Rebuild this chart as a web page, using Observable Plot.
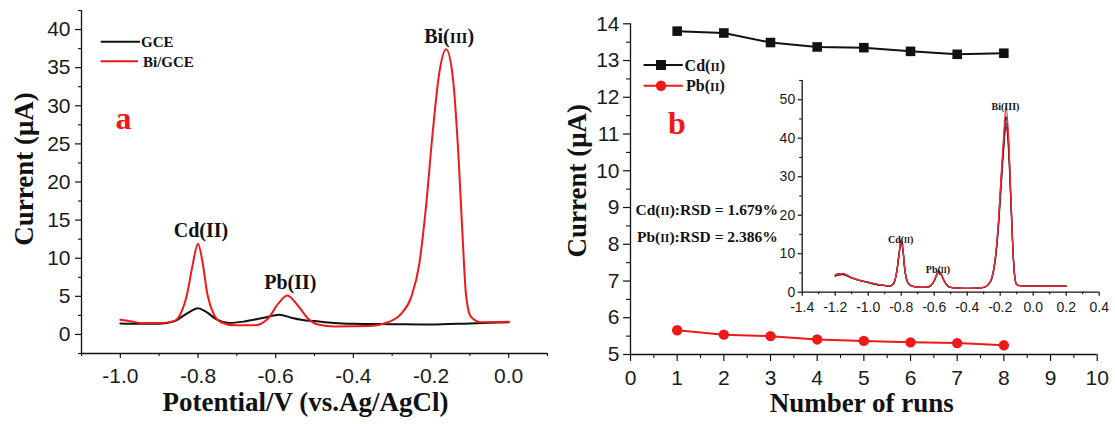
<!DOCTYPE html>
<html>
<head>
<meta charset="utf-8">
<script src="https://cdn.jsdelivr.net/npm/d3@7"></script>
<script src="https://cdn.jsdelivr.net/npm/@observablehq/plot@0.6"></script>
<style>
  html, body { margin: 0; padding: 0; background: #fff; }
  #wrap { position: relative; width: 1115px; height: 424px; overflow: hidden; background: #fff; }
  #wrap > svg { position: absolute; margin: 0; }
</style>
</head>
<body>
<div id="wrap"></div>
<script>
// ================= DATA =================
// ---- Panel a : stripping voltammograms ----
const gcePotential = [-1.0, -0.95, -0.90, -0.86, -0.83, -0.80, -0.78, -0.75, -0.72, -0.68, -0.63, -0.59, -0.56, -0.53, -0.50, -0.45, -0.40, -0.30, -0.20, -0.10, 0.0];
const gceCurrent   = [1.45, 1.4, 1.4, 1.75, 2.7, 3.45, 3.0, 1.9, 1.5, 1.7, 2.2, 2.6, 2.2, 1.9, 1.75, 1.5, 1.4, 1.35, 1.3, 1.45, 1.6];

const biGcePotential = [-1.0, -0.97, -0.947, -0.90, -0.862, -0.845, -0.828, -0.815, -0.80, -0.789, -0.776, -0.758, -0.741, -0.706, -0.655, -0.62, -0.594, -0.57, -0.543, -0.517, -0.491, -0.448, -0.362, -0.311, -0.277, -0.251, -0.23, -0.213, -0.196, -0.179, -0.161, -0.144, -0.13, -0.119, -0.11, -0.097, -0.071, 0.0];
const biGceCurrent   = [1.93, 1.7, 1.5, 1.5, 1.75, 2.7, 5.3, 8.8, 11.9, 9.7, 5.3, 2.5, 1.6, 1.2, 1.2, 2.06, 4.0, 5.1, 3.8, 2.1, 1.3, 1.05, 1.1, 1.6, 2.7, 4.9, 9.3, 16.7, 26.3, 34.2, 37.4, 33.8, 24.1, 13.2, 5.3, 2.3, 1.6, 1.65];

const peakNamesA = ["Cd(II)", "Pb(II)", "Bi(III)"];
const peakPotentialsA = [-0.80, -0.57, -0.161];

const xTicksA = [-1.0, -0.8, -0.6, -0.4, -0.2, 0.0];
const xMinorA = [-1.1, -0.9, -0.7, -0.5, -0.3, -0.1, 0.1];
const yTicksA = [0, 5, 10, 15, 20, 25, 30, 35, 40];
const yMinorA = [-2.5, 2.5, 7.5, 12.5, 17.5, 22.5, 27.5, 32.5, 37.5, 42.5];
const xDomainA = [-1.1, 0.1];
const yDomainA = [-2.5, 42.5];

// ---- Panel b : repeatability ----
const runs = [1, 2, 3, 4, 5, 6, 7, 8];
const cdCurrent = [13.80, 13.75, 13.49, 13.37, 13.35, 13.25, 13.17, 13.20];
const pbCurrent = [5.66, 5.54, 5.50, 5.41, 5.37, 5.33, 5.31, 5.25];
const xTicksB = [0, 1, 2, 3, 4, 5, 6, 7, 8, 9, 10];
const xMinorB = [0.5, 1.5, 2.5, 3.5, 4.5, 5.5, 6.5, 7.5, 8.5, 9.5];
const yTicksB = [5, 6, 7, 8, 9, 10, 11, 12, 13, 14];
const yMinorB = [5.5, 6.5, 7.5, 8.5, 9.5, 10.5, 11.5, 12.5, 13.5];
const xDomainB = [0, 10];
const yDomainB = [5, 14];
const rsdLines = ["Cd(II):RSD = 1.679%", "Pb(II):RSD = 2.386%"];

// ---- Inset : repeated scans ----
const insetPotential = [-1.2, -1.175, -1.155, -1.13, -1.10, -1.05, -1.0, -0.95, -0.90, -0.87, -0.845, -0.825, -0.812, -0.80, -0.79, -0.778, -0.76, -0.74, -0.70, -0.65, -0.62, -0.60, -0.585, -0.574, -0.56, -0.54, -0.52, -0.50, -0.45, -0.40, -0.35, -0.30, -0.27, -0.25, -0.23, -0.21, -0.195, -0.18, -0.165, -0.15, -0.135, -0.12, -0.11, -0.10, -0.08, -0.05, 0.0, 0.1, 0.2];
const insetRunBlack  = [4.2, 4.5, 4.6, 4.3, 3.7, 3.0, 2.5, 2.0, 1.7, 1.55, 2.3, 5.8, 10.2, 13.3, 11.2, 5.8, 2.5, 1.7, 1.3, 1.25, 1.7, 2.9, 4.5, 5.4, 4.8, 2.9, 1.7, 1.25, 1.05, 1.0, 1.05, 1.25, 2.1, 3.8, 8.6, 18.2, 29, 38.5, 45.7, 39.5, 24, 8.8, 3.4, 2.0, 1.7, 1.65, 1.6, 1.6, 1.6];
const insetRunNavy   = [4.3, 4.6, 4.7, 4.3, 3.7, 3.0, 2.5, 2.0, 1.7, 1.55, 2.3, 5.7, 10.0, 13.0, 11.0, 5.7, 2.5, 1.7, 1.3, 1.25, 1.7, 2.9, 4.4, 5.3, 4.7, 2.9, 1.7, 1.25, 1.05, 1.0, 1.05, 1.25, 2.1, 3.7, 8.4, 17.8, 28, 37.5, 44.0, 38.5, 23.5, 8.6, 3.4, 2.0, 1.7, 1.65, 1.6, 1.6, 1.6];
const insetRunMaroon = [4.5, 4.8, 4.8, 4.4, 3.8, 3.1, 2.6, 2.1, 1.75, 1.6, 2.4, 6.0, 10.4, 13.5, 11.4, 5.9, 2.6, 1.7, 1.3, 1.3, 1.8, 3.0, 4.6, 5.5, 4.9, 3.0, 1.7, 1.25, 1.05, 1.0, 1.05, 1.25, 2.1, 3.7, 8.2, 17.2, 27, 36.5, 43.0, 37.5, 23, 8.5, 3.4, 2.0, 1.7, 1.65, 1.6, 1.6, 1.6];
const insetRunRed    = [4.4, 4.7, 4.9, 4.5, 3.8, 3.1, 2.6, 2.1, 1.75, 1.6, 2.4, 6.0, 10.5, 13.6, 11.5, 6.0, 2.6, 1.7, 1.3, 1.3, 1.8, 3.0, 4.7, 5.6, 5.0, 3.0, 1.7, 1.25, 1.05, 1.0, 1.05, 1.25, 2.2, 4.0, 9.0, 19, 30, 40, 48, 41, 25, 9, 3.5, 2.0, 1.7, 1.65, 1.6, 1.6, 1.6];
const insetPeakNames = ["Cd(II)", "Pb(II)", "Bi(III)"];
const insetPeakPotentials = [-0.80, -0.574, -0.165];
const xTicksI = [-1.4, -1.2, -1.0, -0.8, -0.6, -0.4, -0.2, 0.0, 0.2, 0.4];
const xMinorI = [-1.3, -1.1, -0.9, -0.7, -0.5, -0.3, -0.1, 0.1, 0.3];
const yTicksI = [0, 10, 20, 30, 40, 50];
const yMinorI = [5, 15, 25, 35, 45, 55];
const xDomainI = [-1.4, 0.4];
const yDomainI = [0, 55];

// ================= STYLE =================
const SERIF = "'Liberation Serif', 'Times New Roman', serif";
const SANS = "'Liberation Sans', Arial, sans-serif";
const RED = "#f01818";
const INK = "#111";
const wrap = document.getElementById("wrap");

function place(svg, left, top) {
  svg.style.position = "absolute";
  svg.style.left = left + "px";
  svg.style.top = top + "px";
  wrap.appendChild(svg);
}
const fmt1 = d => d.toFixed(1);
const blank = () => "";

// Render the roman numeral in parentheses as small capitals (text content unchanged)
function smallCaps(textEl) {
  const s = textEl.textContent;
  const m = s.match(/^(.*?\()(I+)(\).*)$/);
  if (!m) return;
  const t = d3.select(textEl);
  t.text(null);
  t.append("tspan").text(m[1]);
  t.append("tspan").attr("font-size", "0.76em").text(m[2]);
  t.append("tspan").text(m[3]);
}

function axes(xT, xM, yT, yM, xD, yD, o) {
  return [
    Plot.axisY(yT, {anchor: "left", tickSize: o.yTick, tickPadding: o.yPad, tickFormat: o.yFmt, label: null, fontSize: o.fs, fontFamily: SANS, fill: "#1a1a1a", stroke: INK, strokeWidth: 1.2}),
    Plot.axisY(yM, {anchor: "left", tickSize: o.yMinor, tickFormat: blank, label: null, stroke: INK, strokeWidth: 1.1}),
    Plot.axisX(xT, {anchor: "bottom", tickSize: o.xTick, tickPadding: o.xPad, tickFormat: o.xFmt, label: null, fontSize: o.fs, fontFamily: SANS, fill: "#1a1a1a", stroke: INK, strokeWidth: 1.2}),
    Plot.axisX(xM, {anchor: "bottom", tickSize: o.xMinor, tickFormat: blank, label: null, stroke: INK, strokeWidth: 1.1}),
    Plot.ruleX([xD[0]], {stroke: INK, strokeWidth: 1.3}),
    Plot.ruleY([yD[0]], {stroke: INK, strokeWidth: 1.3})
  ];
}

// ================= PANEL A =================
const plotA = Plot.plot({
  width: 560, height: 424,
  marginLeft: 81, marginRight: 13, marginTop: 10, marginBottom: 71,
  style: {background: "transparent", overflow: "visible", fontFamily: SANS},
  x: {domain: xDomainA, axis: null},
  y: {domain: yDomainA, axis: null},
  marks: [
    ...axes(xTicksA, xMinorA, yTicksA, yMinorA, xDomainA, yDomainA,
      {yTick: 6, yPad: 5, yMinor: 3, xTick: 5, xPad: 10, xMinor: 3, fs: 21, xFmt: fmt1, yFmt: d => String(d)}),
    Plot.line(gceCurrent, {x: gcePotential, y: gceCurrent, stroke: INK, strokeWidth: 2, curve: "monotone-x"}),
    Plot.line(biGceCurrent, {x: biGcePotential, y: biGceCurrent, stroke: RED, strokeWidth: 2, curve: "monotone-x"}),
    Plot.text(peakNamesA, {
      x: peakPotentialsA,
      y: peakPotentialsA.map(p => biGceCurrent[biGcePotential.indexOf(p)]),
      dx: 3, dy: -13, fontFamily: SERIF, fontWeight: "bold", fontSize: 20, fill: INK
    }),
    Plot.text(["a"], {frameAnchor: "top-left", textAnchor: "middle", lineAnchor: "bottom", dx: 42, dy: 118, fill: RED, fontFamily: SERIF, fontWeight: "bold", fontSize: 32}),
    Plot.text(["Potential/V (vs.Ag/AgCl)"], {frameAnchor: "bottom", textAnchor: "middle", lineAnchor: "bottom", dx: -9, dy: 57, fontFamily: SERIF, fontWeight: "bold", fontSize: 27, fill: INK}),
    Plot.text(["Current (\u03bcA)"], {frameAnchor: "left", textAnchor: "middle", lineAnchor: "bottom", rotate: -90, dx: -49, dy: -13, fontFamily: SERIF, fontWeight: "bold", fontSize: 27, fill: INK})
  ]
});
d3.select(plotA).selectAll("text").filter(function() { return this.textContent === "Bi(III)"; }).each(function() { smallCaps(this); });
place(plotA, 0, 0);

// ================= PANEL B =================
const plotB = Plot.plot({
  width: 555, height: 424,
  marginLeft: 70, marginRight: 18.3, marginTop: 23.3, marginBottom: 70,
  style: {background: "transparent", overflow: "visible", fontFamily: SANS},
  x: {domain: xDomainB, axis: null},
  y: {domain: yDomainB, axis: null},
  marks: [
    ...axes(xTicksB, xMinorB, yTicksB, yMinorB, xDomainB, yDomainB,
      {yTick: 7, yPad: 4, yMinor: 4, xTick: 7, xPad: 9, xMinor: 4, fs: 21, xFmt: d => String(d), yFmt: d => String(d)}),
    Plot.line(cdCurrent, {x: runs, y: cdCurrent, stroke: INK, strokeWidth: 2}),
    Plot.dot(cdCurrent, {x: runs, y: cdCurrent, symbol: "square", r: 5.4, fill: INK, stroke: "none"}),
    Plot.line(pbCurrent, {x: runs, y: pbCurrent, stroke: RED, strokeWidth: 2}),
    Plot.dot(pbCurrent, {x: runs, y: pbCurrent, symbol: "circle", r: 5.2, fill: RED, stroke: "none"}),
    Plot.text(["b"], {frameAnchor: "top-left", textAnchor: "middle", lineAnchor: "bottom", dx: 46.5, dy: 110, fill: RED, fontFamily: SERIF, fontWeight: "bold", fontSize: 32}),
    Plot.text(rsdLines.slice(0, 1), {frameAnchor: "top-left", textAnchor: "start", lineAnchor: "bottom", dx: 5, dy: 191, fontFamily: SERIF, fontWeight: "bold", fontSize: 15.5, fill: INK}),
    Plot.text(rsdLines.slice(1, 2), {frameAnchor: "top-left", textAnchor: "start", lineAnchor: "bottom", dx: 6.5, dy: 218, fontFamily: SERIF, fontWeight: "bold", fontSize: 15.5, fill: INK}),
    Plot.text(["Number of runs"], {frameAnchor: "bottom", textAnchor: "middle", lineAnchor: "bottom", dx: -2, dy: 57, fontFamily: SERIF, fontWeight: "bold", fontSize: 27, fill: INK}),
    Plot.text(["Current (\u03bcA)"], {frameAnchor: "left", textAnchor: "middle", lineAnchor: "bottom", rotate: -90, dx: -45, dy: -8.5, fontFamily: SERIF, fontWeight: "bold", fontSize: 27, fill: INK})
  ]
});
d3.select(plotB).selectAll("text").filter(function() { return this.textContent.includes(":RSD"); }).each(function() { smallCaps(this); });
place(plotB, 560, 0);

// ================= INSET =================
const insetRuns = [
  {values: insetRunBlack, color: "#111"},
  {values: insetRunNavy, color: "#2a2a7a"},
  {values: insetRunMaroon, color: "#8a1020"},
  {values: insetRunRed, color: "#f03030"}
];
const plotI = Plot.plot({
  width: 355, height: 250,
  marginLeft: 41.7, marginRight: 16.3, marginTop: 10, marginBottom: 28.3,
  style: {background: "transparent", overflow: "visible", fontFamily: SANS},
  x: {domain: xDomainI, axis: null},
  y: {domain: yDomainI, axis: null},
  marks: [
    ...axes(xTicksI, xMinorI, yTicksI, yMinorI, xDomainI, yDomainI,
      {yTick: 4, yPad: 3, yMinor: 2.5, xTick: 4, xPad: 6, xMinor: 2.5, fs: 14, xFmt: fmt1, yFmt: d => String(d)}),
    ...insetRuns.map(r => Plot.line(r.values, {x: insetPotential, y: r.values, stroke: r.color, strokeWidth: 1.3, curve: "monotone-x"})),
    Plot.text(insetPeakNames, {
      x: insetPeakPotentials,
      y: insetPeakPotentials.map(p => insetRunRed[insetPotential.indexOf(p)]),
      dx: [-3, 2, 2], dy: -9, fontFamily: SERIF, fontWeight: "bold", fontSize: 10, fill: INK
    })
  ]
});
d3.select(plotI).selectAll("text").filter(function() { return this.textContent === "Cd(II)" || this.textContent === "Pb(II)"; }).each(function() { smallCaps(this); });
place(plotI, 760, 70);

// ================= LEGENDS (overlay) =================
const ov = d3.create("svg").attr("width", 1115).attr("height", 424)
  .style("position", "absolute").style("left", "0px").style("top", "0px").style("pointer-events", "none");
function legendText(x, y, t, size, caps) {
  const el = ov.append("text").attr("x", x).attr("y", y).attr("font-family", SERIF).attr("font-weight", "bold")
    .attr("font-size", size).attr("fill", INK).text(t);
  if (caps) smallCaps(el.node());
}
// panel a
ov.append("line").attr("x1", 100.7).attr("x2", 140).attr("y1", 41.7).attr("y2", 41.7).attr("stroke", INK).attr("stroke-width", 2);
legendText(141, 47, "GCE", 15, false);
ov.append("line").attr("x1", 100.7).attr("x2", 138).attr("y1", 61.3).attr("y2", 61.3).attr("stroke", RED).attr("stroke-width", 2);
legendText(143, 66.5, "Bi/GCE", 15, false);
// panel b
ov.append("line").attr("x1", 643.6).attr("x2", 682.8).attr("y1", 65).attr("y2", 65).attr("stroke", INK).attr("stroke-width", 2);
ov.append("rect").attr("x", 661 - 5).attr("y", 65 - 5).attr("width", 10).attr("height", 10).attr("fill", INK);
legendText(684.6, 70.5, "Cd(II)", 16, true);
ov.append("line").attr("x1", 643.6).attr("x2", 682.8).attr("y1", 85.7).attr("y2", 85.7).attr("stroke", RED).attr("stroke-width", 2);
ov.append("circle").attr("cx", 661).attr("cy", 85.7).attr("r", 5.2).attr("fill", RED);
legendText(686, 91, "Pb(II)", 16, true);
wrap.appendChild(ov.node());
</script>
</body>
</html>
